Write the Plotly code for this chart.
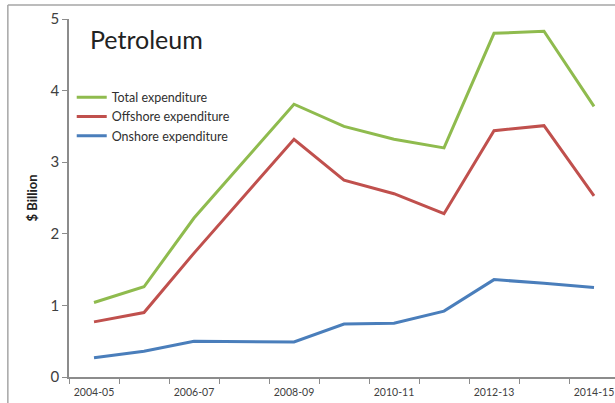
import plotly.graph_objects as go

# financial years
years = ["2004-05", "2005-06", "2006-07", "2007-08", "2008-09", "2009-10",
         "2010-11", "2011-12", "2012-13", "2013-14", "2014-15"]

# $ billion
total = [1.04, 1.26, 2.22, 3.02, 3.81, 3.50, 3.32, 3.20, 4.80, 4.83, 3.78]
offshore = [0.77, 0.90, 1.73, 2.52, 3.32, 2.75, 2.56, 2.28, 3.44, 3.51, 2.53]
onshore = [0.27, 0.36, 0.50, 0.49, 0.49, 0.74, 0.75, 0.92, 1.36, 1.31, 1.25]

idx = list(range(len(years)))
font = "Lato, 'Open Sans', sans-serif"
axis_col = "#8c8c8c"

fig = go.Figure()
fig.add_trace(go.Scatter(x=idx, y=total, mode="lines", name="Total expenditure",
                         line=dict(color="#8fbb4e", width=3)))
fig.add_trace(go.Scatter(x=idx, y=offshore, mode="lines", name="Offshore expenditure",
                         line=dict(color="#c0504d", width=3)))
fig.add_trace(go.Scatter(x=idx, y=onshore, mode="lines", name="Onshore expenditure",
                         line=dict(color="#4a7ebb", width=3)))

fig.update_layout(
    width=615, height=403,
    margin=dict(l=69, r=0, t=19, b=26),
    paper_bgcolor="white", plot_bgcolor="white",
    font=dict(family=font, color="#404040"),
    showlegend=True,
    legend=dict(x=0.005, y=0.822, xanchor="left", yanchor="top",
                bgcolor="rgba(0,0,0,0)", font=dict(size=12.5, color="#303030"),
                tracegroupgap=0),
    annotations=[dict(text="Petroleum", x=0.034, y=0.944, xref="paper", yref="paper",
                      xanchor="left", yanchor="middle", showarrow=False,
                      font=dict(size=25, color="#222222", family=font))],
    shapes=[
        dict(type="line", xref="paper", yref="paper", x0=-0.112, x1=1.1, y0=1.039, y1=1.039,
             line=dict(color="#a6a6a6", width=1.5)),
        dict(type="line", xref="paper", yref="paper", x0=-0.112, x1=-0.112, y0=-0.2, y1=1.039,
             line=dict(color="#a6a6a6", width=1.5)),
    ],
)

fig.update_xaxes(
    range=[-0.5, 10.42], showgrid=False, zeroline=False,
    showline=True, linecolor=axis_col, linewidth=1.5,
    tickmode="array", tickvals=idx[::2], ticktext=years[::2],
    ticks="", ticklabelstandoff=5, tickfont=dict(size=10.5, color="#404040"),
    minor=dict(ticks="outside", tickmode="linear", tick0=-0.5, dtick=1,
               ticklen=5, tickcolor=axis_col, tickwidth=1.2, showgrid=False),
)
fig.update_yaxes(
    range=[0, 5], dtick=1, showgrid=False, zeroline=False,
    showline=True, linecolor=axis_col, linewidth=1.5,
    ticks="outside", ticklen=5, tickcolor=axis_col, tickwidth=1.2,
    tickfont=dict(size=15, color="#404040"),
    title=dict(text="<b>$ Billion</b>", font=dict(size=13, color="#222222"), standoff=10),
)

# drop the default 8px body margin so the figure fills the window exactly
fig.write_html("out.html", config={"displayModeBar": False},
               post_script="document.body.style.margin='0';document.body.style.overflow='hidden';")
